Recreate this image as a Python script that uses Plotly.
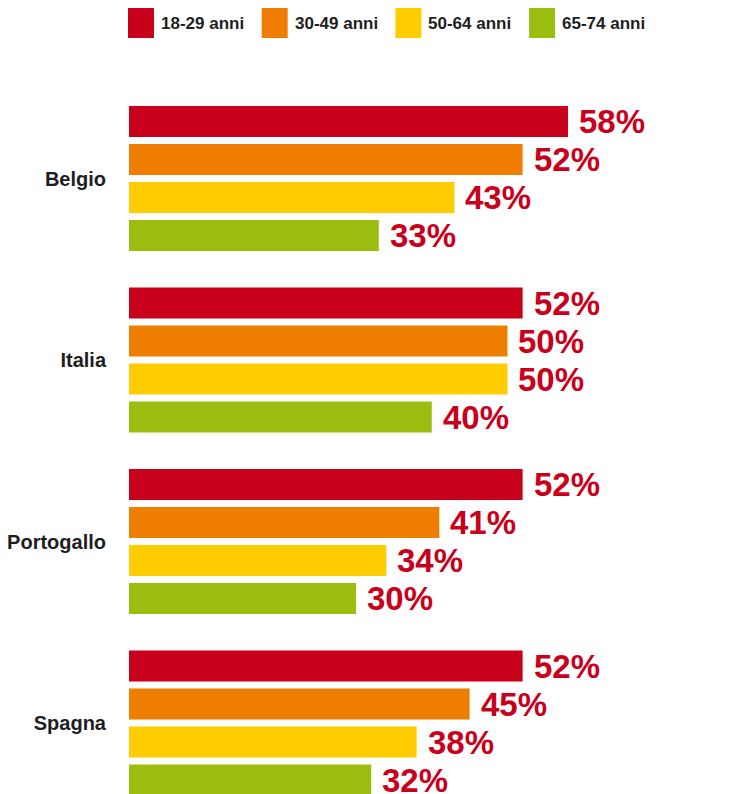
import plotly.graph_objects as go

countries = ["Belgio", "Italia", "Portogallo", "Spagna"]
series_names = ["18-29 anni", "30-49 anni", "50-64 anni", "65-74 anni"]
values = {
    "18-29 anni": [58, 52, 52, 52],
    "30-49 anni": [52, 50, 41, 45],
    "50-64 anni": [43, 50, 34, 38],
    "65-74 anni": [33, 40, 30, 32],
}
colors = ["#C8001C", "#EF7D00", "#FFCC00", "#9BBD0F"]
label_color = "#C8001C"
text_color = "#1E1E22"
FONT = "Liberation Sans"

W, H = 741, 794
ML, MR, MT, MB = 129, 0, 60, 0
bargap = 0.1625
bargroupgap = 0.184
yrange = [3.391, -0.653]
xrange_ = [0, 80.85]

fig = go.Figure()
pos = list(range(len(countries)))
for name, col in zip(series_names, colors):
    fig.add_trace(go.Bar(
        y=pos, x=values[name], orientation="h", name=name,
        marker=dict(color=col, line=dict(width=0)), showlegend=False,
        hoverinfo="x+name",
    ))

# value labels
slot = (1 - bargap) / len(series_names)
annotations = []
for si, name in enumerate(series_names):
    for gi, v in enumerate(values[name]):
        annotations.append(dict(
            x=v, y=gi + (si - (len(series_names) - 1) / 2) * slot,
            xref="x", yref="y", text=f"{v}%", showarrow=False,
            xanchor="left", yanchor="middle", xshift=9,
            font=dict(family=FONT, size=33, color=label_color, weight="bold"),
        ))

# custom legend (pixel layout -> paper coords)
pw, ph = W - ML - MR, H - MT - MB
def px2x(px):
    return (px - ML) / pw
def py2y(py):
    return 1 + (MT - py) / ph

shapes = []
leg_x0, leg_pitch, sq_w, sq_top, sq_bot = 128, 133.7, 26, 8, 38
for i, (name, col) in enumerate(zip(series_names, colors)):
    x0 = leg_x0 + i * leg_pitch
    shapes.append(dict(type="rect", xref="paper", yref="paper",
                       x0=px2x(x0), x1=px2x(x0 + sq_w), y0=py2y(sq_bot), y1=py2y(sq_top),
                       fillcolor=col, line=dict(width=0)))
    annotations.append(dict(
        x=px2x(x0 + sq_w + 5), y=py2y((sq_top + sq_bot) / 2), xref="paper", yref="paper",
        text=name, showarrow=False, xanchor="left", yanchor="middle",
        font=dict(family=FONT, size=17, color=text_color, weight="bold"),
    ))

fig.update_layout(
    width=W, height=H,
    margin=dict(l=ML, r=MR, t=MT, b=MB, pad=0),
    barmode="group", bargap=bargap, bargroupgap=bargroupgap,
    plot_bgcolor="white", paper_bgcolor="white",
    xaxis=dict(visible=False, range=xrange_, fixedrange=True),
    yaxis=dict(range=yrange, tickvals=pos, ticktext=countries,
               showgrid=False, zeroline=False, showline=False,
               ticks="outside", ticklen=18, tickcolor="rgba(0,0,0,0)",
               tickfont=dict(family=FONT, size=20, color=text_color, weight="bold"),
               fixedrange=True),
    annotations=annotations, shapes=shapes,
    showlegend=False,
)

fig.write_html("out.html", config={"displayModeBar": False},
               post_script="document.body.style.margin='0px';document.body.style.overflow='hidden';")
